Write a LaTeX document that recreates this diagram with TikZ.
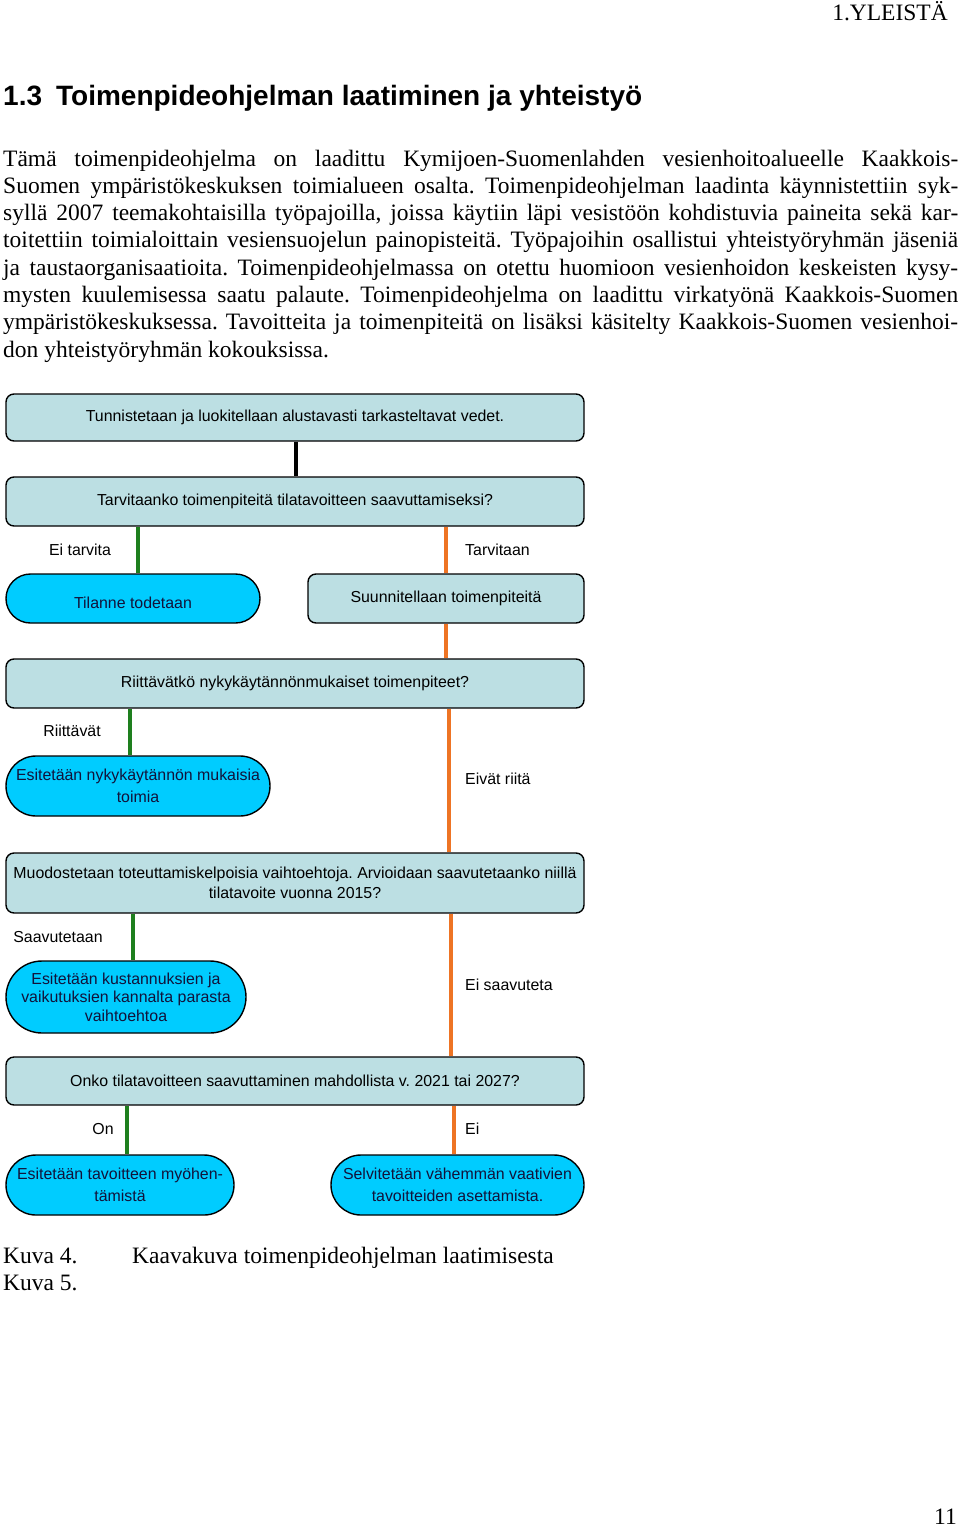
\documentclass[tikz,border=0pt]{standalone}
\usepackage{fontspec}
\setmainfont{Liberation Serif}
\newfontfamily\arial{Liberation Sans}
\usetikzlibrary{calc}
\frenchspacing
\definecolor{boxfill}{HTML}{BCDFE3}
\definecolor{capfill}{HTML}{00CCFF}
\definecolor{gline}{HTML}{1E7F1E}
\definecolor{oline}{HTML}{EE7424}
\definecolor{captext}{HTML}{12123A}
\tikzset{
  body/.style={anchor=base west, inner sep=0pt, font=\fontsize{23.5}{27}\selectfont},
  qbox/.style={draw=black, line width=1.4pt, fill=boxfill, rounded corners=8pt, minimum width=578pt, inner sep=0pt, align=center, font=\arial\fontsize{15.9}{20}\selectfont},
  capsule/.style={draw=black, line width=1.4pt, fill=capfill, inner sep=0pt, align=center, text=captext, font=\arial\fontsize{15.9}{18.5}\selectfont},
  capwide/.style={capsule, font=\arial\fontsize{15.9}{22.5}\selectfont},
  lbl/.style={inner sep=0pt, font=\arial\fontsize{15.9}{19}\selectfont},
  yes/.style={draw=gline, line width=4pt},
  no/.style={draw=oline, line width=4pt},
  blk/.style={draw=black, line width=4pt}
}
\begin{document}
\begin{tikzpicture}[x=1pt,y=-1pt]
\useasboundingbox (0,0) rectangle (960,1528);
% header
\node[anchor=base east, inner sep=0pt, font=\fontsize{23.5}{26}\selectfont] (hdr) at (948,21) {1.YLEISTÄ};
\node[anchor=base west, inner sep=0pt, font=\arial\bfseries\fontsize{28}{32}\selectfont] (title) at (3,105) {1.3\hspace{14pt}Toimenpideohjelman laatiminen ja yhteistyö};
% body
\node[body] (p1) at (3,166) {\makebox[955pt][s]{Tämä toimenpideohjelma on laadittu Kymijoen-Suomenlahden vesienhoitoalueelle Kaakkois-}};
\node[body] (p2) at (3,193.3) {\makebox[955pt][s]{Suomen ympäristökeskuksen toimialueen osalta. Toimenpideohjelman laadinta käynnistettiin syk-}};
\node[body] (p3) at (3,220.6) {\makebox[955pt][s]{syllä 2007 teemakohtaisilla työpajoilla, joissa käytiin läpi vesistöön kohdistuvia paineita sekä kar-}};
\node[body] (p4) at (3,247.9) {\makebox[955pt][s]{toitettiin toimialoittain vesiensuojelun painopisteitä. Työpajoihin osallistui yhteistyöryhmän jäseniä}};
\node[body] (p5) at (3,275.2) {\makebox[955pt][s]{ja taustaorganisaatioita. Toimenpideohjelmassa on otettu huomioon vesienhoidon keskeisten kysy-}};
\node[body] (p6) at (3,302.5) {\makebox[955pt][s]{mysten kuulemisessa saatu palaute. Toimenpideohjelma on laadittu virkatyönä Kaakkois-Suomen}};
\node[body] (p7) at (3,329.8) {\makebox[955pt][s]{ympäristökeskuksessa. Tavoitteita ja toimenpiteitä on lisäksi käsitelty Kaakkois-Suomen vesienhoi-}};
\node[body] (p8) at (3,357.1) {don yhteistyöryhmän kokouksissa.};
% flowchart
\node[qbox, minimum height=47pt] (b1) at (295,417.5) {Tunnistetaan ja luokitellaan alustavasti tarkasteltavat vedet.};
\node[qbox, minimum height=49pt] (b2) at (295,501.5) {Tarvitaanko toimenpiteitä tilatavoitteen saavuttamiseksi?};
\node[capsule, minimum width=254pt, minimum height=49pt, rounded corners=24.5pt] (b3) at (133,598.5) {\raisebox{-4pt}[\height][\depth]{Tilanne todetaan}};
\node[qbox, minimum width=276pt, minimum height=49pt] (b4) at (446,598.5) {Suunnitellaan toimenpiteitä};
\node[qbox, minimum height=49pt] (b5) at (295,683.5) {Riittävätkö nykykäytännönmukaiset toimenpiteet?};
\node[capwide, minimum width=264pt, minimum height=60pt, rounded corners=30pt] (b6) at (138,786) {Esitetään nykykäytännön mukaisia\\toimia};
\node[qbox, minimum height=60pt] (b7) at (295,883) {Muodostetaan toteuttamiskelpoisia vaihtoehtoja. Arvioidaan saavutetaanko niillä\\tilatavoite vuonna 2015?};
\node[capsule, minimum width=240pt, minimum height=72pt, rounded corners=36pt] (b8) at (126,997) {Esitetään kustannuksien ja\\vaikutuksien kannalta parasta\\vaihtoehtoa};
\node[qbox, minimum height=48pt] (b9) at (295,1081) {Onko tilatavoitteen saavuttaminen mahdollista v. 2021 tai 2027?};
\node[capwide, minimum width=228pt, minimum height=60pt, rounded corners=30pt] (b10) at (120,1185) {Esitetään tavoitteen myöhen-\\tämistä};
\node[capwide, minimum width=253pt, minimum height=60pt, rounded corners=30pt] (b11) at (457.5,1185) {Selvitetään vähemmän vaativien\\tavoitteiden asettamista.};
% connector x positions
\coordinate (xk) at (296,0);
\coordinate (xg1) at (138,0);
\coordinate (xo1) at (446,0);
\coordinate (xg2) at (130,0);
\coordinate (xo2) at (449,0);
\coordinate (xg3) at (133,0);
\coordinate (xo3) at (451,0);
\coordinate (xg4) at (127,0);
\coordinate (xo4) at (454,0);
\draw[blk] (b1.south -| xk) -- (b2.north -| xk);
\draw[yes] (b2.south -| xg1) -- (b3.north -| xg1);
\draw[no] (b2.south -| xo1) -- (b4.north -| xo1);
\draw[no] (b4.south -| xo1) -- (b5.north -| xo1);
\draw[yes] (b5.south -| xg2) -- (b6.north -| xg2);
\draw[no] (b5.south -| xo2) -- (b7.north -| xo2);
\draw[yes] (b7.south -| xg3) -- (b8.north -| xg3);
\draw[no] (b7.south -| xo3) -- (b9.north -| xo3);
\draw[yes] (b9.south -| xg4) -- (b10.north -| xg4);
\draw[no] (b9.south -| xo4) -- (b11.north -| xo4);
% labels
\node[lbl] (l1) at (80,550) {Ei tarvita};
\node[lbl, anchor=west] (l2) at (465,550) {Tarvitaan};
\node[lbl] (l3) at (72,731) {Riittävät};
\node[lbl, anchor=west] (l4) at (465,779) {Eivät riitä};
\node[lbl] (l5) at (58,937) {Saavutetaan};
\node[lbl, anchor=west] (l6) at (465,985) {Ei saavuteta};
\node[lbl] (l7) at (103,1129) {On};
\node[lbl, anchor=west] (l8) at (465,1129) {Ei};
% caption
\node[body] (c1) at (3,1263) {Kuva 4.};
\node[body] (c2) at (132,1263) {Kaavakuva toimenpideohjelman laatimisesta};
\node[body] (c3) at (3,1290) {Kuva 5.};
\node[anchor=base east, inner sep=0pt, font=\fontsize{23.5}{26}\selectfont] (pg) at (957,1524) {11};
\end{tikzpicture}
\end{document}
